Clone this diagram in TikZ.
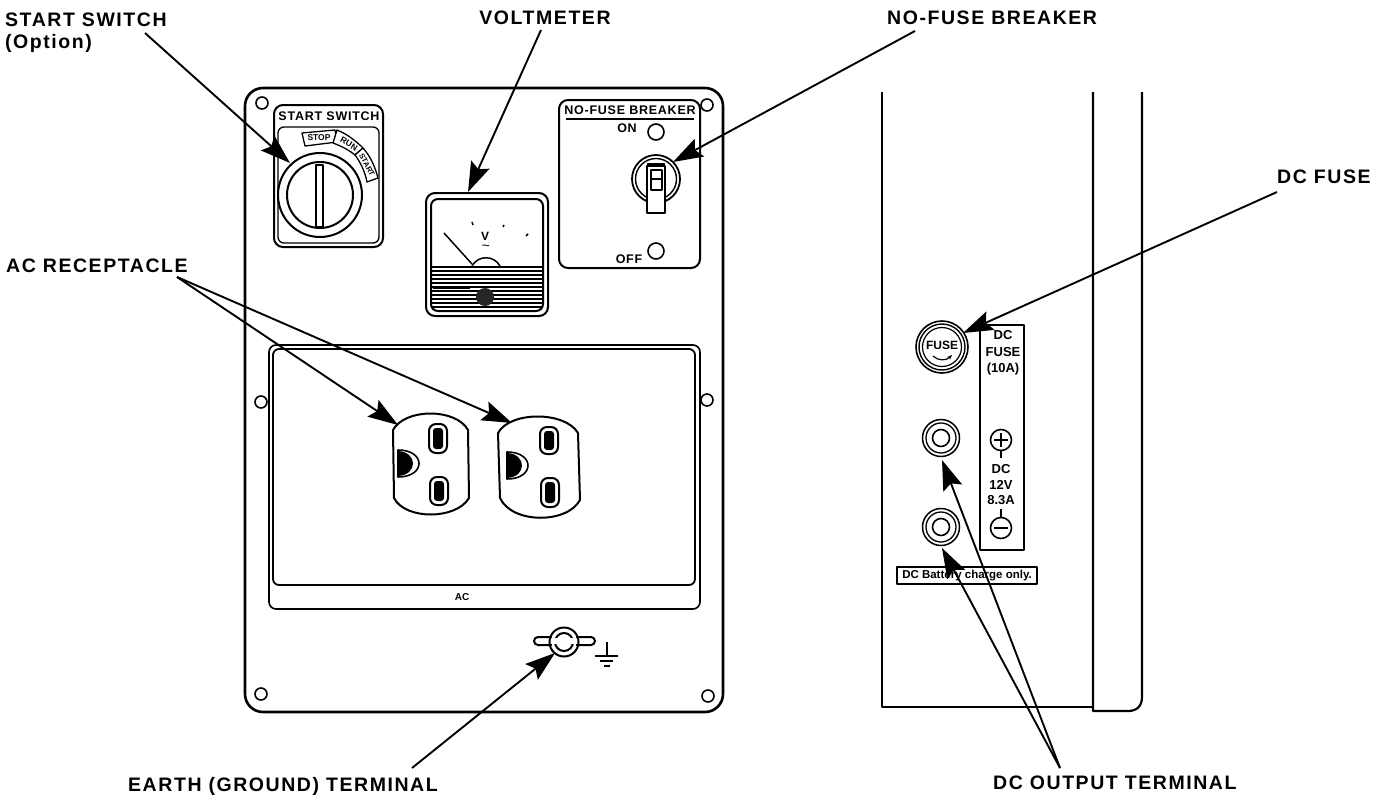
\documentclass[tikz,border=0pt]{standalone}
\usepackage{fontspec}
\setmainfont{Liberation Sans}
\usetikzlibrary{arrows.meta}
\tikzset{
  x=1pt,y=-1pt,
  every path/.style={line join=round},
  ln/.style={draw=black,line width=2pt},
  thin ln/.style={draw=black,line width=1.3pt},
  callout/.style={font=\fontsize{19.5}{22}\selectfont\bfseries\addfontfeature{LetterSpace=8},inner sep=0pt,text=black},
  small/.style={font=\fontsize{12.5}{13}\selectfont\bfseries\addfontfeature{LetterSpace=6},inner sep=0pt},
  plate/.style={font=\fontsize{13}{13}\selectfont\bfseries,inner sep=0pt},
  tiny/.style={font=\fontsize{8.5}{9}\selectfont\bfseries,inner sep=0pt},
  lead/.style={draw=black,line width=1.9pt,-{Stealth[length=30pt,width=20pt,inset=5pt]}},
  screw/.style={circle,draw=black,line width=1.6pt,minimum size=12pt,inner sep=0pt,fill=white},
  ringa/.style={circle,draw=black,minimum size=#1,inner sep=0pt},
}
\begin{document}
\begin{tikzpicture}
\useasboundingbox (0,0) rectangle (1385,795);
\fill[white] (0,0) rectangle (1385,795);
% panel
\draw[line width=2.6pt,rounded corners=18pt] (245,88) rectangle (723,712);
\foreach \n/\px/\py in {s1/262/103,s2/707/105,s3/261/402,s4/707/400,s5/261/694,s6/708/696}
  \node[screw] (\n) at (\px,\py) {};
% start switch
\draw[ln,rounded corners=9pt] (274,105) rectangle (383,247);
\draw[thin ln,rounded corners=6pt] (278,127) rectangle (379,243);
\node[small] (ssT) at (329,116.5) {START SWITCH};
\draw[thin ln,fill=white] (302,133) -- (335,130) -- (337,142) -- (305,146) -- cycle;
\draw[thin ln,fill=white] (337,130) .. controls (347,134) and (356,141) .. (363,148) -- (355,155) .. controls (349,150) and (341,146) .. (333,143) -- cycle;
\draw[thin ln,fill=white] (363,148) .. controls (371,157) and (375,167) .. (378,178) -- (367,182) .. controls (365,172) and (361,163) .. (355,155) -- cycle;
\node[tiny] (tagA) at (319,138) {STOP};
\node[tiny,rotate=-30] (tagB) at (349,144) {RUN};
\node[tiny,rotate=-62,font=\fontsize{7.5}{8}\selectfont\bfseries] (tagC) at (367,165) {START};
\node[circle,draw=black,line width=2pt,fill=white,minimum size=84pt,inner sep=0pt] (dial) at (320,195) {};
\node[circle,draw=black,line width=2pt,minimum size=66pt,inner sep=0pt] (dial2) at (320,195) {};
\draw[ln,fill=white] (316,165) rectangle (323,227);
% voltmeter
\draw[ln,rounded corners=9pt] (426,193) rectangle (548,316);
\draw[ln,rounded corners=7pt] (431,199) rectangle (543,311);
\draw[line width=2.2pt] (431,267) -- (543,267);
\foreach \yy in {271,275,279,283,287,291,295,299,303,307}
  \draw[line width=1.6pt] (432,\yy) -- (542,\yy);
\draw[line width=3pt] (433,287) -- (470,287);
\fill[black!85] (485,297) circle (9);
\draw[line width=1.5pt] (444,233) -- (472,264);
\draw[line width=1.5pt] (472,266) .. controls (478,255) and (494,255) .. (500,266);
\node[font=\fontsize{12}{12}\selectfont\bfseries,inner sep=0pt] (vv) at (485,236) {V};
\node[font=\fontsize{14}{14}\selectfont,inner sep=0pt] (vt) at (486,248) {\char"7E};
\draw[line width=1.5pt] (472,222) -- (473,225);
\draw[line width=1.5pt] (503,227) -- (504,225);
\draw[line width=1.5pt] (526,236) -- (528,234);
% breaker
\draw[ln,rounded corners=9pt] (559,100) rectangle (700,268);
\node[small] (nfT) at (630,110) {NO-FUSE BREAKER};
\draw[line width=1.4pt] (566,119) -- (694,119);
\node[small] (onT) at (627,128) {ON};
\node[small] (offT) at (629,259) {OFF};
\node[ringa=16pt,line width=1.6pt] (onC) at (656,132) {};
\node[ringa=16pt,line width=1.6pt] (offC) at (656,251) {};
\node[ringa=48pt,line width=1.8pt] (tog) at (656,179) {};
\node[ringa=41pt,line width=1.4pt] (tog2) at (656,179) {};
\draw[ln,fill=white] (647,166) rectangle (665,213);
\draw[line width=1.5pt] (651,170) rectangle (662,179);
\draw[line width=1.5pt] (651,179) -- (651,190) -- (662,190) -- (662,179);
\fill[black] (647,163) rectangle (665,167);
% AC plate
\draw[line width=1.6pt,rounded corners=7pt] (269,345) rectangle (700,609);
\draw[line width=1.8pt,rounded corners=6pt,fill=white] (273,349) rectangle (695,585);
\node[inner sep=0pt,font=\fontsize{10}{10}\selectfont\bfseries] (acT) at (462,597) {AC};
% receptacles
\draw[ln,fill=white] (393,430) .. controls (405,408) and (456,408) .. (468,430) -- (469,498) .. controls (456,520) and (405,520) .. (394,498) -- cycle;
\draw[ln,rounded corners=7pt] (429,424) rectangle (447,453);
\fill[black,rounded corners=3pt] (433,428) rectangle (443,449);
\draw[ln,rounded corners=7pt] (430,477) rectangle (448,505);
\fill[black,rounded corners=3pt] (434,481) rectangle (444,501);
\draw[line width=1.6pt] (398,450) .. controls (426,450) and (426,477) .. (398,477) -- cycle;
\fill[black] (398,451) .. controls (418,452) and (418,475) .. (398,476) -- cycle;
\draw[ln,fill=white] (498,433) .. controls (510,411) and (565,411) .. (578,433) -- (580,500) .. controls (567,524) and (512,524) .. (500,498) -- cycle;
\draw[ln,rounded corners=7pt] (540,427) rectangle (558,454);
\fill[black,rounded corners=3pt] (544,431) rectangle (554,450);
\draw[ln,rounded corners=7pt] (541,478) rectangle (559,507);
\fill[black,rounded corners=3pt] (545,482) rectangle (555,503);
\draw[line width=1.6pt] (507,452) .. controls (535,452) and (535,479) .. (507,479) -- cycle;
\fill[black] (507,453) .. controls (527,454) and (527,477) .. (507,478) -- cycle;
% earth terminal
\draw[ln,rounded corners=4pt,fill=white] (534,637) rectangle (595,645);
\node[circle,draw=black,line width=2pt,fill=white,minimum size=29pt,inner sep=0pt] (nut) at (564,642) {};
\node[ringa=18pt,line width=2pt] (nut2) at (564,642) {};
\fill[white] (552,638) rectangle (576,644);
\draw[line width=2pt] (541,637) -- (552,637) (541,645) -- (552,645) (576,637) -- (588,637) (576,645) -- (588,645);
\draw[line width=1.6pt] (607,642) -- (607,656);
\draw[line width=1.6pt] (595,656) -- (618,656);
\draw[line width=1.6pt] (600,661) -- (613,661);
\draw[line width=1.8pt] (604,666) -- (610,666);
% side view
\draw[line width=2pt] (882,92) -- (882,707) -- (1093,707);
\draw[line width=2.2pt] (1093,92) -- (1093,711) -- (1128,711) .. controls (1137,711) and (1142,706) .. (1142,697) -- (1142,92);
% fuse
\node[ringa=52pt,line width=1.6pt] (fuse1) at (942,347) {};
\node[ringa=46pt,line width=1.4pt] (fuse2) at (942,347) {};
\node[ringa=39pt,line width=1.2pt] (fuse3) at (942,347) {};
\node[inner sep=0pt,font=\fontsize{12}{12}\selectfont\bfseries] (fuseT) at (942,345) {FUSE};
\draw[line width=1.2pt,-{Stealth[length=5pt,width=4pt]}] (933,356) .. controls (938,361) and (946,361) .. (952,355);
\draw[line width=1.7pt] (980,325) rectangle (1024,550);
\node[plate] (dc1) at (1003,335) {DC};
\node[plate] (dc2) at (1003,352) {FUSE};
\node[plate] (dc3) at (1003,369) {(10A)};
\node[ringa=21pt,line width=1.6pt] (plus) at (1001,440) {};
\node[ringa=21pt,line width=1.6pt] (minus) at (1001,528) {};
\draw[line width=1.6pt] (994,440) -- (1008,440) (1001,433) -- (1001,447);
\draw[line width=1.6pt] (994,528) -- (1008,528);
\draw[line width=1.2pt] (plus) -- (1001,458);
\node[plate] (dc4) at (1001,469) {DC};
\node[plate] (dc5) at (1001,485) {12V};
\node[plate] (dc6) at (1001,500) {8.3A};
\draw[line width=1.2pt] (minus) -- (1001,509);
\foreach \n/\py in {t1/438,t2/527}{
  \node[ringa=37pt,line width=1.5pt] (\n a) at (941,\py) {};
  \node[ringa=30pt,line width=1.3pt] (\n b) at (941,\py) {};
  \node[ringa=17pt,line width=1.6pt] (\n c) at (941,\py) {};
}
\node[draw=black,line width=2pt,fill=white,minimum width=140pt,minimum height=17pt,inner sep=0pt,font=\fontsize{11.5}{12}\selectfont\bfseries] (batt) at (967,575.5) {DC Battery charge only.};
% callouts
\node[callout,anchor=base west] (lS) at (5,26) {START SWITCH};
\node[callout,anchor=base west] (lO) at (5,48) {(Option)};
\node[callout,anchor=base] (lV) at (545,24) {VOLTMETER};
\node[callout,anchor=base west] (lN) at (887,24) {NO-FUSE BREAKER};
\node[callout,anchor=base west] (lF) at (1277,183) {DC FUSE};
\node[callout,anchor=base west] (lA) at (6,272) {AC RECEPTACLE};
\node[callout,anchor=base west] (lE) at (128,791) {EARTH (GROUND) TERMINAL};
\node[callout,anchor=base west] (lD) at (993,789) {DC OUTPUT TERMINAL};
\coordinate (cS) at (145,33); \coordinate (tS) at (290,163);
\coordinate (cV) at (541,30); \coordinate (tV) at (468,192);
\coordinate (cN) at (915,31); \coordinate (tN) at (673,162);
\coordinate (cF) at (1277,192); \coordinate (tF) at (963,333);
\coordinate (cA) at (177,277); \coordinate (tA) at (398,425); \coordinate (tB) at (512,423);
\coordinate (cE) at (412,768); \coordinate (tE) at (555,653);
\coordinate (cD) at (1060,768); \coordinate (tD) at (942,460); \coordinate (tG) at (942,548);
\draw[lead] (cS) -- (tS);
\draw[lead] (cV) -- (tV);
\draw[lead] (cN) -- (tN);
\draw[lead] (cF) -- (tF);
\draw[lead] (cA) -- (tA);
\draw[lead] (cA) -- (tB);
\draw[lead] (cE) -- (tE);
\draw[lead] (cD) -- (tD);
\draw[lead] (cD) -- (tG);
\end{tikzpicture}
\end{document}
